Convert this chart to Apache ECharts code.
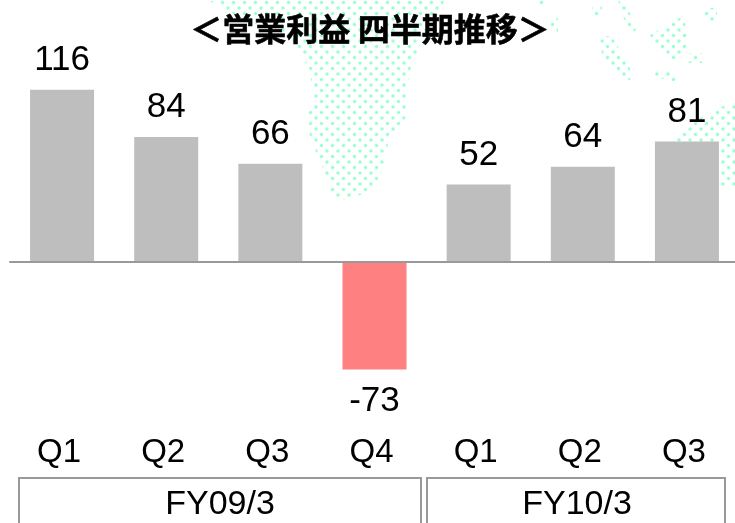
<!DOCTYPE html>
<html><head><meta charset="utf-8">
<style>html,body{margin:0;padding:0;background:#fff;overflow:hidden;width:735px;height:523px}#c{width:745px;height:523px}</style>
<script src="https://cdn.jsdelivr.net/npm/echarts@6/dist/echarts.min.js"></script>
</head><body><div id="c"></div>
<script>
const titleText = '＜営業利益 四半期推移＞';
const quarters = ['Q1','Q2','Q3','Q4','Q1','Q2','Q3'];
const profit = [116,84,66,-73,52,64,81];
const fiscalYears = ['FY09/3','FY10/3'];

// faint dotted world-map backdrop
const tile = document.createElement('canvas');
tile.width = 11; tile.height = 11;
const t = tile.getContext('2d');
[[2.5,2.5],[8,8]].forEach(([x,y])=>{
  const g = t.createRadialGradient(x,y,0,x,y,2.6);
  g.addColorStop(0,'#8affc6'); g.addColorStop(0.5,'#a8ffd6'); g.addColorStop(1,'rgba(255,255,255,0)');
  t.fillStyle = g; t.fillRect(x-2.5,y-2.5,5,5);
});
const land = [
 [[208,0],[445,0],[420,45],[410,70],[406,95],[408,115],[400,125],[390,135],[382,170],[373,190],[347,200],[332,197],[328,180],[317,155],[307,127],[307,115],[313,100],[310,70],[298,50],[270,30],[235,15]],
 [[650,35],[683,16],[688,35],[687,45],[678,62],[657,50]],
 [[600,36],[612,36],[632,72],[630,80],[620,78],[602,55]],
 [[618,0],[625,0],[636,30],[632,34],[622,15]],
 [[647,72],[675,70],[677,83],[660,78]],
 [[688,53],[702,53],[702,63],[688,63]],
 [[735,100],[735,188],[720,188],[720,143],[672,143],[700,118]],
 [[704,8],[717,8],[717,22],[704,22]],
 [[592,5],[602,5],[602,16],[592,16]],
 [[550,18],[558,18],[558,32],[550,32]],
 [[532,0],[548,0],[545,6],[535,6]]
];
const pat = {image: tile, repeat: 'repeat'};
const mapEls = land.map(points=>({type:'polygon',z:0,silent:true,shape:{points},style:{fill:pat}}));

const boxes = [[19,421],[427,725]];
const boxEls = [];
fiscalYears.forEach((name,i)=>{
  const [a,b] = boxes[i];
  boxEls.push({type:'polyline',z:5,shape:{points:[[a,530],[a,478],[b,478],[b,530]]},style:{stroke:'#999',lineWidth:2,fill:null}});
  boxEls.push({type:'text',z:5,style:{text:name,x:(i==0?220:577),y:505,align:'center',verticalAlign:'middle',font:'34px "Liberation Sans"',fill:'#000'}});
});

const chart = echarts.init(document.getElementById('c'),null,{renderer:'canvas'});
chart.setOption({
  animation:false,
  title:{text:titleText,left:365,top:6,textAlign:'center',textStyle:{fontFamily:'"Noto Sans CJK JP"',fontSize:32,fontWeight:'bold',color:'#000',lineHeight:36,textBorderColor:'#000',textBorderWidth:0.6}},
  grid:{left:10,top:24.6,width:729,height:414.4,containLabel:false},
  xAxis:[
    {type:'category',data:quarters,axisTick:{show:false},axisLabel:{show:false},
     axisLine:{onZero:true,lineStyle:{color:'#999',width:2}},z:6},
    {type:'category',data:quarters,position:'bottom',axisTick:{show:false},axisLine:{show:false,onZero:false},
     axisLabel:{margin:-3,padding:[0,6,0,0],fontFamily:'"Liberation Sans"',fontSize:33,color:'#000'}}
  ],
  yAxis:{type:'value',min:-120,max:160,interval:40,show:false,splitLine:{show:false}},
  series:[{
    type:'bar',barWidth:64,z:3,
    data:profit.map(v=>({value:v,itemStyle:{color:v<0?'#FF8080':'#BEBEBE'},label:{distance:v<0?14:12}})),
    label:{show:true,position:'outside',fontFamily:'"Liberation Sans"',fontSize:35,color:'#000'}
  }],
  graphic:mapEls.concat(boxEls)
});
</script></body></html>
